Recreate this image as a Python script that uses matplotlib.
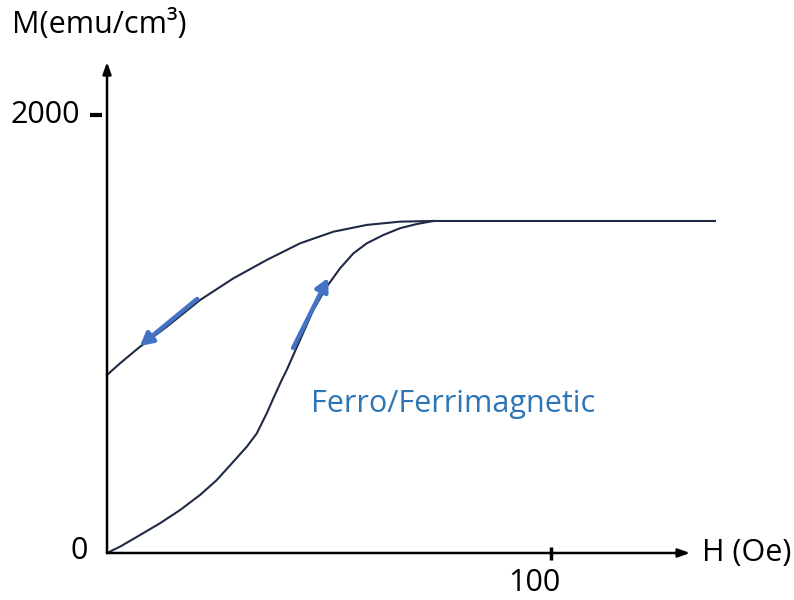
import matplotlib.pyplot as plt
import numpy as np

# initial magnetization curve (H in Oe, M in emu/cm3)
h_init = [0, 2.93, 7.43, 11.94, 16.44, 20.95, 24.71, 28.45, 31.46, 33.72, 35.97, 37.45,
          39.35, 40.47, 43.47, 46.46, 49.48, 52.48, 55.47, 58.49, 62.23, 65.99, 69.75, 73.49]
m_init = [0, 29, 82, 136, 196, 265, 333, 417, 485, 546, 638, 706,
          790, 836, 973, 1110, 1216, 1300, 1368, 1414, 1452, 1483, 1502, 1516]

# demagnetization branch
h_down = [0, 2.93, 7.43, 13.45, 20.95, 28.45, 35.97, 43.47, 50.97, 58.49, 65.99, 73.49]
m_down = [813, 866, 942, 1033, 1155, 1254, 1338, 1414, 1467, 1498, 1513, 1516]

# saturation plateau
h_sat = [73.49, 137.0]
m_sat = [1516, 1516]

# direction arrows (start, end)
arrow_down = ((20.3, 1160), (7.4, 945))
arrow_up = ((41.9, 936), (49.8, 1256))

y_tick = 2000
x_tick = 100

plt.rcParams['font.family'] = ['Open Sans', 'DejaVu Sans']

fig = plt.figure(figsize=(7.94, 6.0), dpi=100)
ax = fig.add_axes([0, 0, 1, 1])
ax.set_xlim(-24.1, 154.7)
ax.set_ylim(-214.6, 2525)
ax.axis('off')

line_col = '#1f2a44'
blue = '#4472c4'

ax.plot(h_init, m_init, color=line_col, lw=1.5)
ax.plot(h_down, m_down, color=line_col, lw=1.5)
ax.plot(h_sat, m_sat, color=line_col, lw=1.5)

for (x0, y0), (x1, y1) in (arrow_down, arrow_up):
    ax.annotate('', xy=(x1, y1), xytext=(x0, y0),
                arrowprops=dict(arrowstyle='-|>,head_length=0.75,head_width=0.4',
                                color=blue, lw=3.2, shrinkA=0, shrinkB=0))

# axes with arrows
ax.annotate('', xy=(0, 2242), xytext=(0, 0),
            arrowprops=dict(arrowstyle='-|>,head_length=0.7,head_width=0.25',
                            color='black', lw=1.8, shrinkA=0, shrinkB=0))
ax.annotate('', xy=(131.3, 0), xytext=(0, 0),
            arrowprops=dict(arrowstyle='-|>,head_length=0.7,head_width=0.25',
                            color='black', lw=1.8, shrinkA=0, shrinkB=0))

# ticks
ax.plot([-3.8, -1.1], [y_tick, y_tick], color='black', lw=3, solid_capstyle='butt')
ax.plot([x_tick, x_tick], [-32, 27], color='black', lw=2.5, solid_capstyle='butt')

fs = 22
ax.text(-6.1, y_tick, '2000', fontsize=fs, ha='right', va='center')
ax.text(-4.3, 10, '0', fontsize=fs, ha='right', va='center')
ax.text(96.2, -137, '100', fontsize=fs, ha='center', va='center')
ax.text(134, 0, 'H (Oe)', fontsize=fs, ha='left', va='center')
ax.text(-21.3, 2411, 'M(emu/cm³)', fontsize=fs, ha='left', va='center')
ax.text(46.0, 680, 'Ferro/Ferrimagnetic', fontsize=fs, ha='left', va='center',
        color='#2e75b6')

fig.savefig('out.png', dpi=100)
